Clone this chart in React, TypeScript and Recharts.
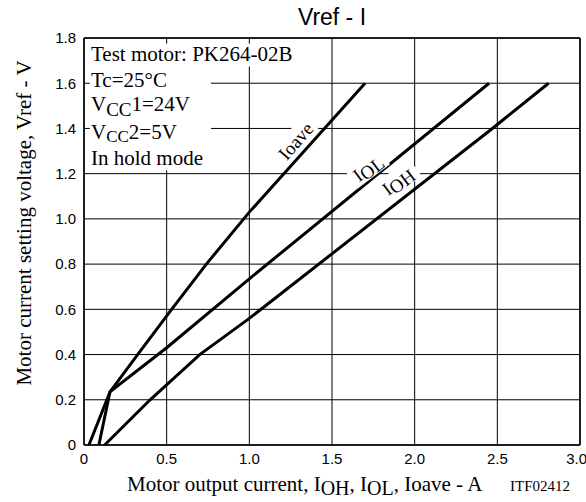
import {
  LineChart, Line, XAxis, YAxis, CartesianGrid, ReferenceArea, ReferenceLine, ReferenceDot,
} from "recharts";

const xTicks = [0, 0.5, 1.0, 1.5, 2.0, 2.5, 3.0];
const yTicks = [0, 0.2, 0.4, 0.6, 0.8, 1.0, 1.2, 1.4, 1.6, 1.8];

// current (A) vs Vref (V)
const ioaveCurrent = [0.03, 0.157, 0.33, 0.53, 0.74, 1.0, 1.7];
const ioaveVref = [0, 0.235, 0.405, 0.6, 0.8, 1.03, 1.6];

const iolCurrent = [0.09, 0.157, 0.5, 1.0, 2.45];
const iolVref = [0, 0.235, 0.43, 0.735, 1.6];

const iohCurrent = [0.125, 0.4, 0.7, 1.0, 2.47, 2.81];
const iohVref = [0, 0.2, 0.4, 0.56, 1.4, 1.6];

const conditions = ["Test motor: PK264-02B", "Tc=25°C", "VCC1=24V", "VCC2=5V", "In hold mode"];

const toPoints = (xs: number[], ys: number[]) => xs.map((i, k) => ({ i, v: ys[k] }));

const SERIF = '"Liberation Serif", "Times New Roman", serif';
const SANS = '"Liberation Sans", Arial, sans-serif';

const fmt = (v: number) => (v === 0 ? "0" : v.toFixed(1));

const CurveTag = ({ cx, cy, angle, w, children }: any) => (
  <g transform={`translate(${cx},${cy}) rotate(${angle})`}>
    <rect x={-w / 2} y={-12} width={w} height={22} fill="#fff" />
    <text textAnchor="middle" y={6} fontFamily={SERIF} fontSize={19} fill="#000">
      {children}
    </text>
  </g>
);

export default function App() {
  return (
    <div style={{ position: "absolute", left: 0, top: 0, width: 586, height: 502, background: "#fff" }}>
      <LineChart width={586} height={502} margin={{ top: 38, right: 6, bottom: 27, left: 44 }}>
        <CartesianGrid stroke="#000" strokeWidth={1} />
        <XAxis
          type="number"
          dataKey="i"
          domain={[0, 3]}
          ticks={xTicks}
          tickFormatter={fmt}
          height={30}
          axisLine={{ stroke: "#000", strokeWidth: 1.5 }}
          tickLine={false}
          tick={{ fontSize: 15, fontFamily: SANS, fill: "#000" }}
        />
        <YAxis
          type="number"
          dataKey="v"
          domain={[0, 1.8]}
          ticks={yTicks}
          tickFormatter={fmt}
          width={40}
          axisLine={{ stroke: "#000", strokeWidth: 1.5 }}
          tickLine={false}
          tick={{ fontSize: 15, fontFamily: SANS, fill: "#000" }}
        />
        <ReferenceArea x1={0.035} x2={0.768} y1={1.215} y2={1.775} fill="#fff" fillOpacity={1} stroke="none" />
        <ReferenceArea x1={0.035} x2={1.33} y1={1.674} y2={1.775} fill="#fff" fillOpacity={1} stroke="none" />
        <ReferenceLine y={1.8} stroke="#000" strokeWidth={1.5} />
        <ReferenceLine x={3} stroke="#000" strokeWidth={1.5} />
        <Line data={toPoints(ioaveCurrent, ioaveVref)} dataKey="v" stroke="#000" strokeWidth={3} dot={false} isAnimationActive={false} />
        <Line data={toPoints(iolCurrent, iolVref)} dataKey="v" stroke="#000" strokeWidth={3} dot={false} isAnimationActive={false} />
        <Line data={toPoints(iohCurrent, iohVref)} dataKey="v" stroke="#000" strokeWidth={3} dot={false} isAnimationActive={false} />
        <ReferenceDot
          x={1.283}
          y={1.343}
          shape={(p: any) => <CurveTag cx={p.cx} cy={p.cy} angle={-49} w={48}>Ioave</CurveTag>}
        />
        <ReferenceDot
          x={1.718}
          y={1.224}
          shape={(p: any) => (
            <CurveTag cx={p.cx} cy={p.cy} angle={-37} w={40}>
              I<tspan dy={3}>OL</tspan>
            </CurveTag>
          )}
        />
        <ReferenceDot
          x={1.9}
          y={1.166}
          shape={(p: any) => (
            <CurveTag cx={p.cx} cy={p.cy} angle={-37} w={44}>
              I<tspan dy={3}>OH</tspan>
            </CurveTag>
          )}
        />
      </LineChart>

      <svg width={586} height={502} style={{ position: "absolute", left: 0, top: 0, pointerEvents: "none" }}>
        <text x={332} y={25} textAnchor="middle" fontFamily={SANS} fontSize={23} fill="#000">Vref - I</text>

        <g fontFamily={SERIF} fontSize={21} fill="#000">
          <text x={91} y={61}>{conditions[0]}</text>
          <text x={91} y={87}>{conditions[1]}</text>
          <text x={91} y={111}>V<tspan dy={5} fontSize={19}>CC</tspan><tspan dy={-5}>1=24V</tspan></text>
          <text x={91} y={139}>V<tspan dy={3} fontSize={17}>CC</tspan><tspan dy={-3}>2=5V</tspan></text>
          <text x={91} y={165}>{conditions[4]}</text>
        </g>

        <text
          transform="translate(31,223) rotate(-90)"
          textAnchor="middle"
          fontFamily={SERIF}
          fontSize={21}
          fill="#000"
        >
          Motor current setting voltage, Vref  - V
        </text>

        <text x={127} y={491} fontFamily={SERIF} fontSize={21} fill="#000">
          Motor output current, I<tspan dy={4} fontSize={20}>OH</tspan>
          <tspan dy={-4}>, I</tspan><tspan dy={4} fontSize={20}>OL</tspan>
          <tspan dy={-4}>, Ioave - A</tspan>
        </text>
        <text x={510} y={491} fontFamily={SERIF} fontSize={15} fill="#000">ITF02412</text>
      </svg>
    </div>
  );
}
